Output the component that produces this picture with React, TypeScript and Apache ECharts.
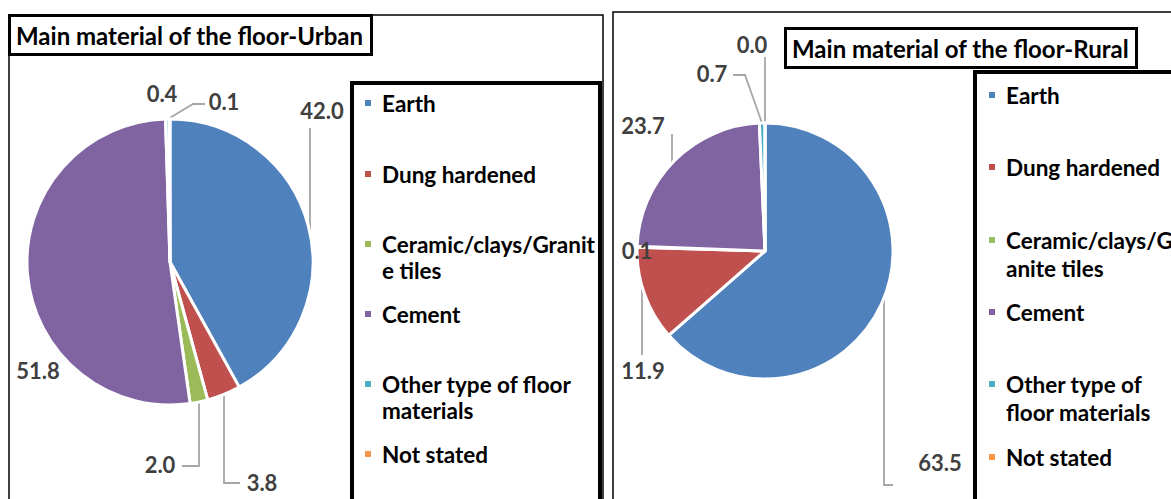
import React, { useEffect, useRef } from 'react';
import * as echarts from 'echarts';

// ---------- data ----------
const categories = [
  'Earth',
  'Dung hardened',
  'Ceramic/clays/Granite tiles',
  'Cement',
  'Other type of floor materials',
  'Not stated',
];
const urbanValues = [42.0, 3.8, 2.0, 51.8, 0.4, 0.1];
const ruralValues = [63.5, 11.9, 0.1, 23.7, 0.7, 0.0];
const urbanTitle = 'Main material of the floor-Urban';
const ruralTitle = 'Main material of the floor-Rural';
const urbanLegendLabels = [
  'Earth',
  'Dung hardened',
  'Ceramic/clays/Granit\ne tiles',
  'Cement',
  'Other type of floor\nmaterials',
  'Not stated',
];
const ruralLegendLabels = [
  'Earth',
  'Dung hardened',
  'Ceramic/clays/Gr\nanite tiles',
  'Cement',
  'Other type of\nfloor materials',
  'Not stated',
];
const colors = ['#4F81BD', '#C0504D', '#9BBB59', '#8064A2', '#4BACC6', '#F79646'];

// ---------- layout ----------
const FONT = 'Lato';
// square marker followed by a tiny speck that widens the icon box (adds gap before text)
const LEGEND_ICON = 'path://M0,0h8v8h-8zM12.9,7.9h0.1v0.1h-0.1z';
// leader: [anchorX on pie edge, 'top'|'bottom', ...elbow points]
const urbanLayout = {
  center: [170, 262],
  radius: 143,
  labelPos: [[322, 110], [262, 482], [160, 464], [38, 370], [162, 93], [224, 101]],
  leaders: [
    [310, 'top', [310, 128]],
    [224, 'bottom', [224, 483], [240, 483]],
    [199, 'bottom', [199, 466], [182, 466]],
    null,
    null,
    [168, 'top', [193, 104], [205, 104]],
  ],
  legendX: 363,
  legendY: [103, 174, 244, 314, 384, 454],
  lineH: 26,
};
const ruralLayout = {
  center: [765, 251],
  radius: 128,
  labelPos: [[940, 462], [643, 370], [637, 250], [643, 125], [712, 73], [752, 44]],
  leaders: [
    [884, 'bottom', [884, 485], [893, 485]],
    [642, 'bottom', [642, 355]],
    null,
    [672, 'top', [672, 134]],
    [762, 'top', [745, 75], [733, 75]],
    [765, 'top', [765, 57]],
  ],
  legendX: 987,
  legendY: [95, 167, 240, 312, 384, 457],
  lineH: 28,
};

function leaderPoints(L: any, i: number) {
  const spec = L.leaders[i];
  if (!spec) return undefined;
  const [ax, side, ...rest] = spec;
  const [cx, cy] = L.center;
  const dx = ax - cx;
  const dy = Math.sqrt(Math.max(0, L.radius * L.radius - dx * dx));
  const ay = side === 'top' ? cy - dy : cy + dy;
  const pts = [[ax, ay], ...rest];
  while (pts.length < 3) pts.push(pts[pts.length - 1]);
  return pts;
}

function pieSeries(name: string, values: number[], L: any) {
  return {
    type: 'pie',
    name,
    center: L.center,
    radius: L.radius,
    startAngle: 90,
    clockwise: true,
    avoidLabelOverlap: false,
    itemStyle: { borderColor: '#fff', borderWidth: 3 },
    label: {
      show: true,
      position: 'outside',
      formatter: (p: any) => Number(p.value).toFixed(1),
      fontFamily: FONT,
      fontSize: 22,
      fontWeight: 'bold',
      color: '#404040',
    },
    labelLine: { show: true, length: 10, length2: 10, lineStyle: { color: '#A6A6A6', width: 1.8 } },
    labelLayout: (p: any) => {
      const pts = leaderPoints(L, p.dataIndex);
      const o: any = {
        x: L.labelPos[p.dataIndex][0],
        y: L.labelPos[p.dataIndex][1],
        align: 'center',
        verticalAlign: 'middle',
      };
      if (pts) o.labelLinePoints = pts;
      return o;
    },
    emphasis: { disabled: true },
    data: categories.map((c, i) => ({
      name: c,
      value: values[i],
      itemStyle: { color: colors[i] },
      labelLine: { show: !!L.leaders[i] },
    })),
  };
}

function legends(labels: string[], L: any) {
  return categories.map((c, i) => {
    const twoLine = labels[i].indexOf('\n') >= 0;
    return {
      left: L.legendX,
      top: L.legendY[i] - (twoLine ? 1.5 : 0.5) * L.lineH,
      orient: 'vertical',
      padding: 0,
      itemWidth: 13,
      itemHeight: 8,
      icon: LEGEND_ICON,
      selectedMode: false,
      data: [c],
      formatter: () => (twoLine ? '\n' + labels[i] : labels[i]),
      textStyle: { fontFamily: FONT, fontSize: 22.5, fontWeight: 'bold', color: '#000', lineHeight: L.lineH },
    };
  });
}

export default function App() {
  const ref = useRef<HTMLDivElement>(null);
  useEffect(() => {
    if (!ref.current) return;
    const chart = echarts.init(ref.current, null, { renderer: 'svg' });
    const titleStyle = { fontFamily: FONT, fontSize: 24, fontWeight: 'bold', color: '#000' };
    chart.setOption({
      animation: false,
      backgroundColor: '#fff',
      title: [
        {
          text: urbanTitle, left: 9, top: 15, padding: [8, 8, 8, 7],
          borderColor: '#000', borderWidth: 3, backgroundColor: '#fff', textStyle: titleStyle,
        },
        {
          text: ruralTitle, left: 785, top: 28, padding: [8, 8, 8, 7],
          borderColor: '#000', borderWidth: 3, backgroundColor: '#fff', textStyle: titleStyle,
        },
      ],
      graphic: [
        { type: 'rect', z: -10, shape: { x: 9, y: 15, width: 594, height: 520 }, style: { fill: 'none', stroke: '#000', lineWidth: 1.5 } },
        { type: 'rect', z: -10, shape: { x: 613, y: 12, width: 600, height: 520 }, style: { fill: 'none', stroke: '#000', lineWidth: 1.5 } },
        { type: 'rect', z: -5, shape: { x: 352, y: 83, width: 248, height: 440 }, style: { fill: '#fff', stroke: '#000', lineWidth: 4 } },
        { type: 'rect', z: -5, shape: { x: 975, y: 72, width: 240, height: 440 }, style: { fill: '#fff', stroke: '#000', lineWidth: 4 } },
      ],
      legend: [...legends(urbanLegendLabels, urbanLayout), ...legends(ruralLegendLabels, ruralLayout)],
      series: [pieSeries('Urban', urbanValues, urbanLayout), pieSeries('Rural', ruralValues, ruralLayout)],
    });
    return () => chart.dispose();
  }, []);
  return <div ref={ref} style={{ position: 'fixed', left: 0, top: 0, width: 1171, height: 499 }} />;
}
